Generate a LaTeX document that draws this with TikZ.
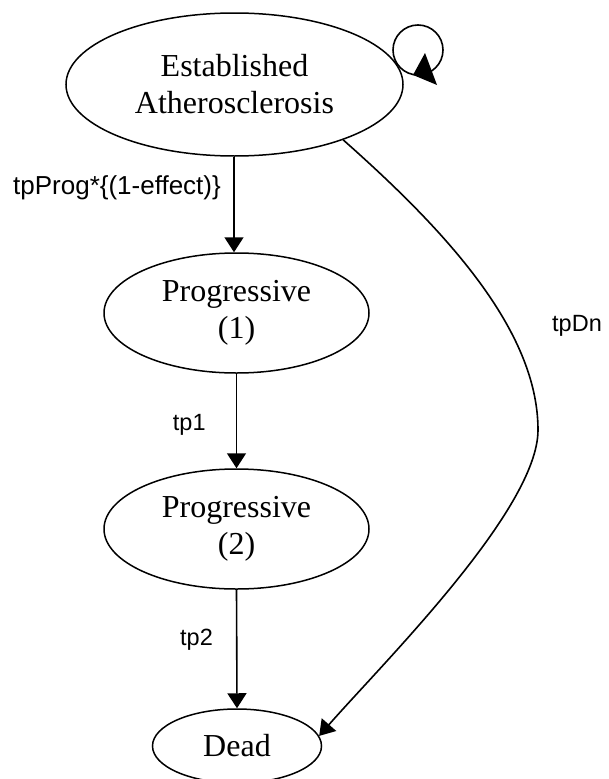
\documentclass[tikz,border=0pt]{standalone}
\usepackage{fontspec}
\setmainfont{Liberation Serif}
\setsansfont{Liberation Sans}
\usetikzlibrary{shapes.geometric,arrows.meta}
\begin{document}
\begin{tikzpicture}[x=1pt,y=-1pt,
  state/.style={draw,ellipse,line width=1.5pt,inner sep=0pt,align=center,
    font=\fontsize{32}{37}\selectfont},
  lbl/.style={font=\sffamily\fontsize{23.5}{28}\selectfont,inner sep=0pt},
  arr/.style={line width=1.6pt,-{Triangle[length=15pt,width=19pt]}}]
\useasboundingbox (0,0) rectangle (608,779);
\clip (0,0) rectangle (608,779);
\node[state,minimum width=337pt,minimum height=143pt] (e1) at (234.5,84.5) {Established\\Atherosclerosis};
\node[state,minimum width=265pt,minimum height=120pt] (p1) at (236.5,313) {Progressive\\(1)};
\node[state,minimum width=265pt,minimum height=120pt] (p2) at (236.5,529) {Progressive\\(2)};
\node[state,minimum width=169pt,minimum height=74pt] (dead) at (237,746) {Dead};
\draw[arr] (e1.south -| 234,0) -- (p1.north -| 234,0);
\draw[arr] (p1.south) -- (p2.north);
\draw[arr] (p2.south) -- (dead.north);
\draw[arr] (e1.-27) .. controls (445,230) and (538,330) .. (538,430)
  .. controls (538,510) and (381,665) .. (dead.7);
\draw[line width=1.6pt] (418,50) circle (25);
\fill (425,53) -- (413,75) -- (437,85) -- cycle;
\node[lbl,font=\sffamily\fontsize{26}{30}\selectfont,anchor=base east] (l0) at (221,194) {tpProg*\{(1-effect)\}};
\node[lbl,anchor=base west] (l1) at (172.7,430.7) {tp1};
\node[lbl,anchor=base west] (l2) at (180,645) {tp2};
\node[lbl,anchor=base west] (l3) at (552,331) {tpDn};
\end{tikzpicture}
\end{document}
